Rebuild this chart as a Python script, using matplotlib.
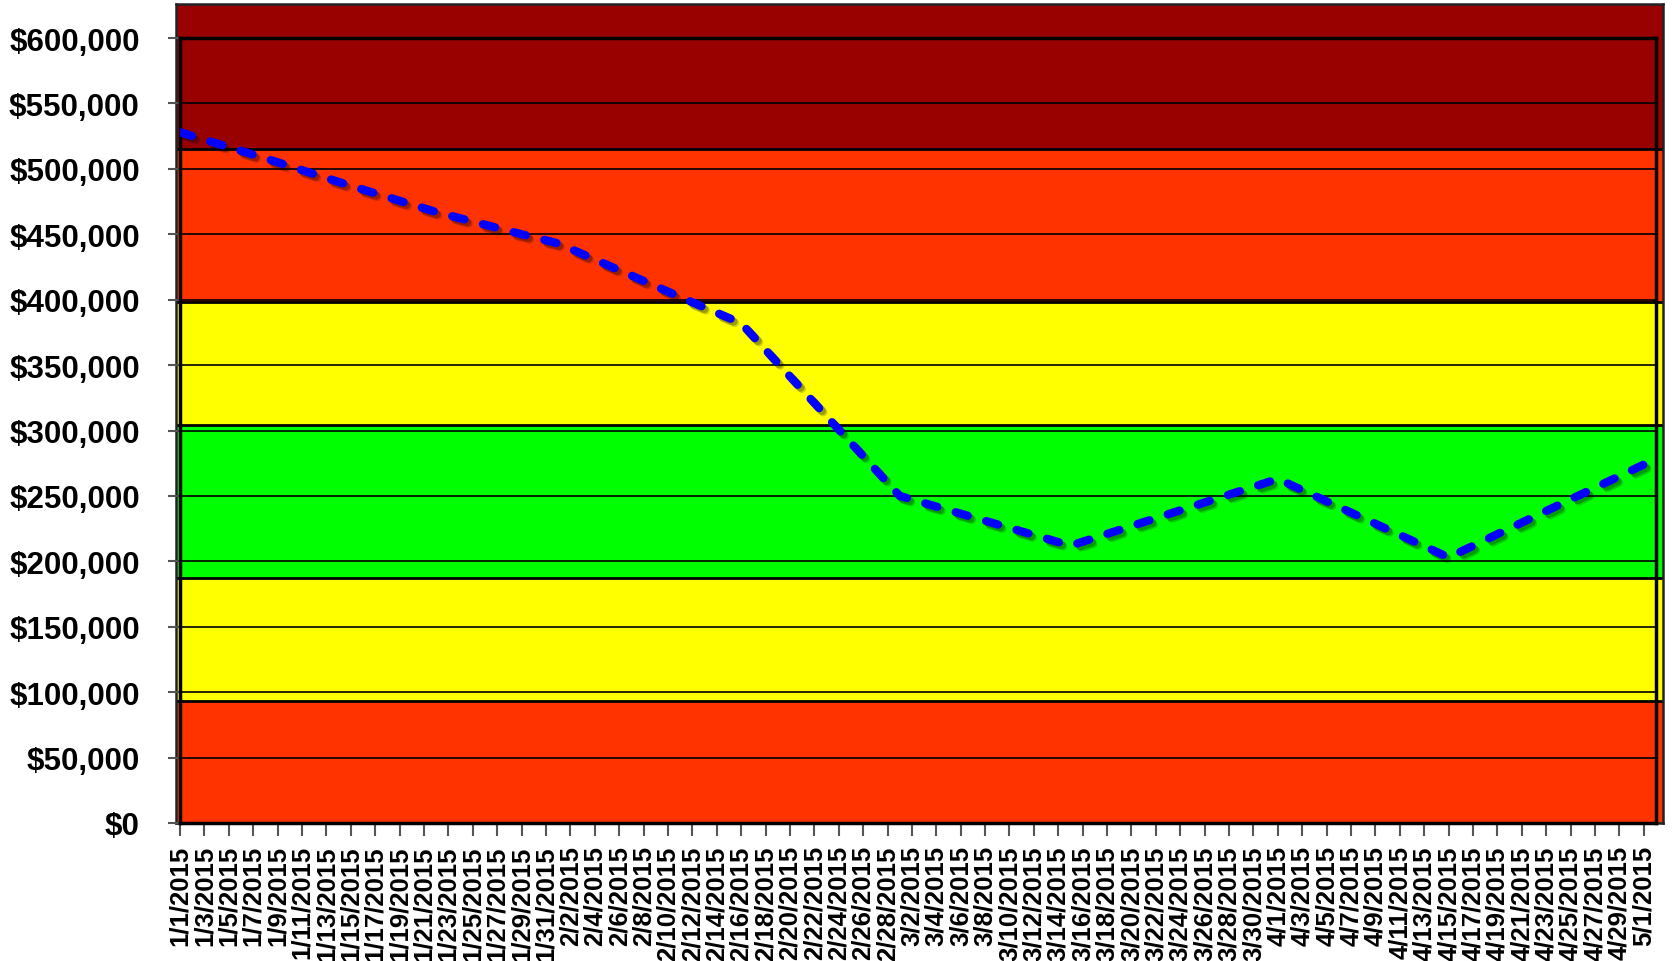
import numpy as np
import pandas as pd
import matplotlib
matplotlib.use("Agg")
import matplotlib.pyplot as plt
import matplotlib.patheffects as pe

plt.rcParams['font.family'] = ['Liberation Sans', 'DejaVu Sans']
plt.rcParams['font.weight'] = 'bold'

# line vertices
dates = ["2015-01-01", "2015-01-08", "2015-01-15", "2015-01-22", "2015-01-29",
         "2015-02-01", "2015-02-12", "2015-02-16", "2015-03-01", "2015-03-15",
         "2015-04-01", "2015-04-15", "2015-05-01"]
values = [528000, 508000, 487000, 467000, 450000,
          443000, 398000, 382000, 250000, 212000,
          263000, 203000, 274000]

# coloured bands behind the plot
band_lo = [0, 93000, 187000, 304000, 398000, 515000]
band_hi = [93000, 187000, 304000, 398000, 515000, 626000]
band_colors = ["#FF3300", "#FFFF00", "#00FF00", "#FFFF00", "#FF3300", "#990000"]

yticks = np.arange(0, 600001, 50000)
xticks = pd.date_range("2015-01-01", "2015-05-01", freq="2D")
xlabels = [f"{d.month}/{d.day}/{d.year}" for d in xticks]

W, H = 1673, 962
fig = plt.figure(figsize=(W / 100, H / 100), dpi=100)

# background band panel (slightly bigger than the plot)
bg = fig.add_axes([176 / W, 1 - 824 / H, (1663 - 176) / W, (824 - 5) / H])
bg.set_xlim(0, 1)
bg.set_ylim(0, 626000)
for lo, hi, c in zip(band_lo, band_hi, band_colors):
    bg.axhspan(lo, hi, color=c, lw=0)
for b in band_lo[1:]:
    bg.axhline(b, color="black", lw=2)
bg.set_xticks([])
bg.set_yticks([])
for s in bg.spines.values():
    s.set_color("#222222")
    s.set_linewidth(1.8)

# main plot
ax = fig.add_axes([180 / W, 1 - 824 / H, (1656 - 180) / W, (824 - 39) / H])
ax.patch.set_alpha(0)
x = pd.to_datetime(dates)
ax.plot(x, values, color="#0000FF", lw=6, dashes=(1.5, 2.3),
        dash_capstyle="round", solid_joinstyle="round", zorder=5,
        path_effects=[pe.SimpleLineShadow(offset=(3, -3), shadow_color="black", alpha=0.18),
                      pe.SimpleLineShadow(offset=(2, -2), shadow_color="black", alpha=0.25),
                      pe.Normal()])

ax.set_xlim(pd.Timestamp("2015-01-01"), pd.Timestamp("2015-05-02"))
ax.set_ylim(0, 600000)
ax.set_yticks(yticks)
ax.set_yticklabels([f"${v:,.0f}" for v in yticks], fontsize=22.5, fontweight="bold")
ax.set_xticks(xticks)
ax.set_xticklabels(xlabels, rotation=90, fontsize=18.5, fontweight="bold")
ax.yaxis.grid(True, color="black", lw=1.2)
ax.set_axisbelow(True)
ax.tick_params(axis="y", direction="out", length=9, width=1.5, color="#555555", pad=20)
ax.tick_params(axis="x", direction="out", length=9, width=1.5, color="#555555", pad=7)
for s in ax.spines.values():
    s.set_color("black")
    s.set_linewidth(2.5)

fig.savefig("out.png", dpi=100)
